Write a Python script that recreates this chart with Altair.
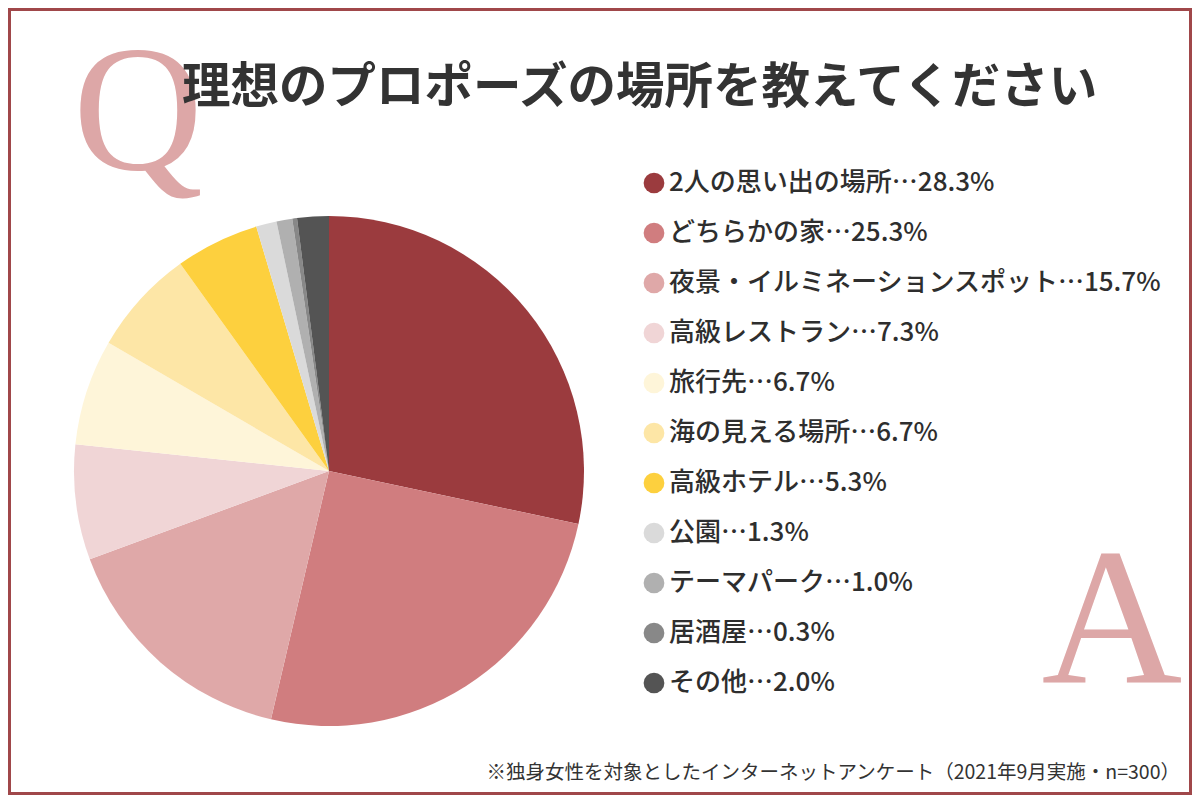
import altair as alt
import pandas as pd

names = ["2人の思い出の場所", "どちらかの家", "夜景・イルミネーションスポット", "高級レストラン",
         "旅行先", "海の見える場所", "高級ホテル", "公園", "テーマパーク", "居酒屋", "その他"]
values = [28.3, 25.3, 15.7, 7.3, 6.7, 6.7, 5.3, 1.3, 1.0, 0.3, 2.0]
colors = ["#9B3B3E", "#D07D7F", "#DFA8A8", "#F0D5D6", "#FEF5D9", "#FDE6A6",
          "#FDD03E", "#DADADA", "#B0B0B0", "#888888", "#545454"]

title_text = "理想のプロポーズの場所を教えてください"
note_text = "※独身女性を対象としたインターネットアンケート（2021年9月実施・n=300）"

labels = [f"{n}…{v:.1f}%" for n, v in zip(names, values)]
df = pd.DataFrame({"label": labels, "value": values, "idx": list(range(len(names)))})

W, H = 1184, 787
JP = "'Noto Sans CJK JP', sans-serif"
SERIF = "'Liberation Serif', serif"

pie = alt.Chart(df).mark_arc(radius=255).encode(
    theta=alt.Theta("value:Q", stack=True),
    order=alt.Order("idx:Q"),
    color=alt.Color(
        "label:N",
        scale=alt.Scale(domain=labels, range=colors),
        sort=labels,
        legend=alt.Legend(
            title=None, orient="none", legendX=633, legendY=162,
            symbolType="circle", symbolSize=430, symbolStrokeWidth=0, symbolOpacity=1,
            labelFont=JP, labelFontSize=26, labelFontWeight=500, labelColor="#2E2E2E",
            labelLimit=700, rowPadding=24, labelOffset=2, padding=0,
        ),
    ),
    x=alt.value(321),
    y=alt.value(463),
)

one = pd.DataFrame({"a": [0]})

q = alt.Chart(one).mark_text(
    text="Q", font=SERIF, fontSize=180, color="#DDA7A7", align="center", baseline="alphabetic"
).encode(x=alt.value(130), y=alt.value(161))

a = alt.Chart(one).mark_text(
    text="A", font=SERIF, fontSize=195, color="#DDA7A7", align="center", baseline="alphabetic"
).encode(x=alt.value(1104), y=alt.value(675))

title = alt.Chart(one).mark_text(
    text=title_text, font=JP, fontSize=48.5, fontWeight="bold", color="#333333",
    align="left", baseline="middle"
).encode(x=alt.value(174), y=alt.value(80))

note = alt.Chart(one).mark_text(
    text=note_text, font=JP, fontSize=19.5, color="#333333", align="right", baseline="middle"
).encode(x=alt.value(1172), y=alt.value(765))

border = alt.Chart(one).mark_rect(
    fill="transparent", stroke="#A0474A", strokeWidth=3
).encode(x=alt.value(1.5), x2=alt.value(W - 1.5), y=alt.value(1.5), y2=alt.value(H - 1.5))

chart = alt.layer(q, title, pie, a, note, border).properties(
    width=W, height=H, autosize=alt.AutoSizeParams(type="none"), padding=0
).configure_view(stroke=None).configure(background="white")

chart.save("out.html", embed_options={"renderer": "svg", "actions": False})
